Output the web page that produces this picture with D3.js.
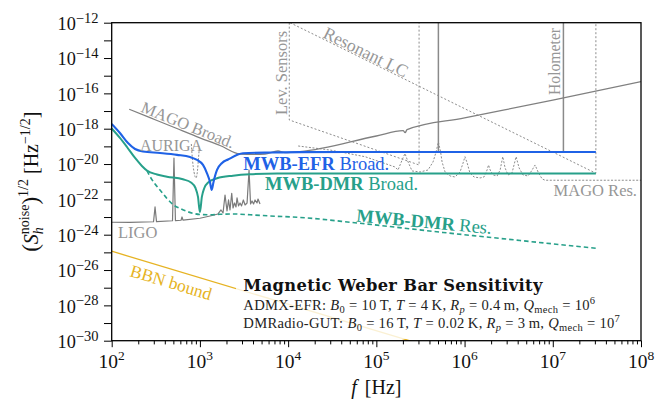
<!DOCTYPE html>
<html>
<head>
<meta charset="utf-8">
<script src="https://cdn.jsdelivr.net/npm/d3@7/dist/d3.min.js"></script>
<style>
  body { margin: 0; background: #fff; }
  svg { display: block; font-family: "Liberation Serif", "DejaVu Serif", serif; }
  text { white-space: pre; }
</style>
</head>
<body>
<svg id="chart" width="667" height="402"></svg>
<script>
// ---- Data: [frequency in Hz, strain noise in Hz^-1/2] ----
const efrBroad = [[100,1.85e-18],[124,5.7e-19],[153,1.55e-19],[184,7.1e-20],[226,5.1e-20],[353,4.2e-20],
  [550,3.3e-20],[773,2.5e-20],[927,1.7e-20],[1084,8.9e-21],[1200,3.1e-21],[1300,9.7e-22],[1360,3.4e-22],
  [1426,9.7e-22],[1563,4.6e-21],[1782,1.15e-20],[2084,1.8e-20],[3083,4.06e-20],[6237,4.5e-20],
  [13650,4.7e-20],[50000,4.8e-20],[3.08e7,4.8e-20]];

const dmrBroad = [[100,1.03e-18],[124,3.0e-19],[149,9.2e-20],[184,2.2e-20],[220,7.8e-21],[251,4.3e-21],
  [326,2.56e-21],[423,1.93e-21],[641,1.37e-21],[793,9.0e-22],[891,4.4e-22],[951,1.37e-22],[1000,1.9e-23],
  [1052,1.37e-22],[1122,4.4e-22],[1240,9.0e-22],[1563,1.56e-21],[2371,2.19e-21],[3700,2.63e-21],
  [7480,2.88e-21],[23000,2.92e-21],[3.08e7,2.92e-21]];

const dmrRes = [[251,4.3e-21],[272,1.98e-21],[310,7.4e-22],[353,3.4e-22],[423,1.12e-22],[495,5.1e-23],
  [595,3.05e-23],[714,2.07e-23],[1000,1.40e-23],[1303,1.34e-23],[1692,1.43e-23],[2371,1.49e-23],
  [3700,1.34e-23],[6240,1.15e-23],[13650,9.5e-24],[60400,4.6e-24],[5.7e5,1.34e-24],[4.26e6,4.7e-25],
  [3.08e7,1.71e-25]];

const ligo = [[100,5.06e-24],[161,4.93e-24],[298,5.4e-24],[310,3.72e-23],[322,5.47e-24],[489,6.15e-24],
  [508,2.2e-20],[528,6.23e-24],[611,6.56e-24],[627,1.01e-23],[643,6.65e-24],[1000,8.51e-24],[1303,1.15e-23],
  [1603,1.49e-23],[1734,2.51e-23],[1828,1.7e-23],[1926,1.77e-22],[2029,2.2e-23],[2110,9.25e-23],
  [2193,2.51e-23],[2294,2.21e-22],[2373,3.26e-23],[2467,6.25e-23],[2565,3.72e-23],[2634,1.2e-22],
  [2739,4.24e-23],[2850,6.25e-23],[2964,4.24e-23],[3107,9.25e-23],[3250,4.82e-23],[3423,6.25e-23],
  [3605,4.61e-21],[3749,5.49e-23],[3899,8.11e-23],[4055,5.49e-23],[4217,9.25e-23],[4441,6.25e-23],
  [4558,1.05e-22],[4801,5.49e-23]];

const magoBroad = [[158,1.26e-17],[272,4.21e-18],[522,1.13e-18],[1000,3.06e-19],[1692,1.12e-19],
  [2850,3.7e-20],[4217,3.48e-20],[5470,3.7e-20],[7680,5.48e-20],[9230,4.46e-20],[13650,5.01e-20],
  [1e5,3.86e-19],[2.01e5,7.83e-19],[2.12e5,6.0e-19],[2.23e5,8.81e-19],[1e6,4.09e-18],[1e7,4.09e-17],
  [1e8,4.58e-16]];

const magoRes = [[1.3e4,1.05e-19],[2.99e4,6.2e-20],[7.45e4,2.6e-20],[1.63e5,6.8e-21],[1.76e5,4.6e-21],[1.96e5,1.7e-20],
  [2.11e5,3.96e-20],[2.29e5,1.31e-20],[2.54e5,4.05e-21],[3.13e5,3.56e-21],[3.85e5,4.6e-21],[4.39e5,1.31e-20],
  [4.75e5,4.8e-20],[5.05e5,1.77e-19],[5.35e5,4.8e-20],[5.56e5,1.31e-20],[6.01e5,3.56e-21],[6.85e5,2.11e-21],
  [7.8e5,1.85e-21],[8.89e5,3.56e-21],[9.62e5,1.15e-20],[1.01e6,2.61e-20],[1.07e6,1.15e-20],[1.15e6,3.12e-21],
  [1.28e6,1.85e-21],[1.5e6,1.63e-21],[1.66e6,1.85e-21],[1.8e6,4.6e-21],[1.87e6,8.85e-21],[1.95e6,4.6e-21],
  [2.1e6,2.4e-21],[2.34e6,2.11e-21],[2.53e6,4.6e-21],[2.71e6,2.61e-20],[2.88e6,6.0e-21],[3.11e6,2.4e-21],
  [3.45e6,3.12e-21],[3.84e6,2.61e-20],[4.15e6,6.0e-21],[4.6e6,2.4e-21],[5.25e6,2.11e-21],[5.83e6,4.6e-21],
  [6.3e6,8.85e-21],[6.81e6,3.56e-21],[7.57e6,1.43e-21],[8.18e6,1.21e-21],[1e8,1.21e-21]];

const auriga = [[799,1.36e-19],[824,1.7e-20],[857,3.56e-21],[903,1.63e-21],[940,4.61e-21],[964,2.2e-20],[989,1.05e-19]];
const levSensors = [[1.03e4,1e-12],[1.03e4,3.12e-18],[3.05e5,8.85e-21],[3.05e5,1e-12]];
const resonantLC = [[1.05e4,1e-12],[3.08e7,3.0e-21],[3.08e7,1e-12]];
const holometer = [[5.05e5,1e-12],[5.05e5,4.8e-20],[1.32e7,4.8e-20],[1.32e7,1e-12]];
const bbnBound = [[100,1.16e-25],[1e6,1.16e-31]];

// Axis decades (exponents of ten)
const xTickExps = [2,3,4,5,6,7,8];
const yTickExps = [-30,-29,-28,-27,-26,-25,-24,-23,-22,-21,-20,-19,-18,-17,-16,-15,-14,-13,-12];
const yLabelExps = [-30,-28,-26,-24,-22,-20,-18,-16,-14,-12];

// Benchmark parameter lines: [text, kind]
const admxRuns = [["ADMX-EFR: ","n"],["B","i"],["0","sub"],[" = 10\u2009T, ","n"],["T","i"],[" = 4\u2009K, ","n"],
  ["R","i"],["p","subi"],[" = 0.4\u2009m, ","n"],["Q","i"],["mech","sub"],[" = 10","n"],["6","sup"]];
const dmradioRuns = [["DMRadio-GUT: ","n"],["B","i"],["0","sub"],[" = 16\u2009T, ","n"],["T","i"],[" = 0.02\u2009K, ","n"],
  ["R","i"],["p","subi"],[" = 3\u2009m, ","n"],["Q","i"],["mech","sub"],[" = 10","n"],["7","sup"]];

// ---- Layout ----
const X0 = 111.7, X1 = 641, Y0 = 340.7, Y1 = 22.7;
const BLUE = "#1f62e6", GREEN = "#27a08a", GRAY = "#808080", LGRAY = "#969696", GOLD = "#e6b323";

const svg = d3.select("#chart");
const x = d3.scaleLog().domain([1e2, 1e8]).range([X0, X1]);
const y = d3.scaleLog().domain([1e-30, 1e-12]).range([Y0, Y1]);

svg.append("defs").append("clipPath").attr("id", "plotArea")
  .append("rect").attr("x", X0).attr("y", Y1).attr("width", X1 - X0).attr("height", Y0 - Y1);

const straight = d3.line().x(d => x(d[0])).y(d => y(d[1]));
const smooth = d3.line().x(d => x(d[0])).y(d => y(d[1])).curve(d3.curveMonotoneX);

const plot = svg.append("g").attr("clip-path", "url(#plotArea)");

function draw(data, gen, color, width, dash) {
  const p = plot.append("path").datum(data).attr("d", gen)
    .attr("fill", "none").attr("stroke", color).attr("stroke-width", width)
    .attr("stroke-linejoin", "round");
  if (dash) p.attr("stroke-dasharray", dash);
  return p;
}

// Reference experiments
draw(bbnBound, straight, GOLD, 1.3);
draw(levSensors, straight, "#8c8c8c", 1, "2,2");
draw(resonantLC, straight, "#8c8c8c", 1, "2,2");
draw(magoRes, straight, "#8c8c8c", 1, "2,1.6");
draw(holometer, straight, "#8a8a8a", 1.5);
draw(magoBroad, smooth, GRAY, 1.3);
draw(auriga, smooth, "#8c8c8c", 1, "2,1.5");
draw(ligo, straight, "#7a7a7a", 1.2);

// Magnetic Weber bar projections
draw(dmrRes, smooth, GREEN, 1.6, "4.5,3");
draw(dmrBroad, smooth, GREEN, 2);
draw(efrBroad, smooth, BLUE, 2.1);

// ---- Axes ----
const xMinor = [];
xTickExps.forEach(e => { for (let m = 1; m <= 9; m++) { const v = m * Math.pow(10, e); if (v <= 1e8) xMinor.push(v); } });
const xAxis = svg.append("g").attr("transform", `translate(0,${Y0})`)
  .call(d3.axisBottom(x).tickValues(xMinor).tickFormat("").tickSizeOuter(0).tickSize(6.5));
xAxis.selectAll(".tick line").attr("y2", d => (Math.abs(Math.log10(d) - Math.round(Math.log10(d))) < 1e-9 ? 6.5 : 3.7))
  .attr("stroke", "#000").attr("stroke-width", 1);
xAxis.select(".domain").remove();

const yAxis = svg.append("g").attr("transform", `translate(${X0},0)`)
  .call(d3.axisLeft(y).tickValues(yTickExps.map(e => Math.pow(10, e))).tickFormat("").tickSizeOuter(0).tickSize(7.7));
yAxis.selectAll(".tick line").attr("stroke", "#000").attr("stroke-width", 1);
yAxis.select(".domain").remove();

svg.append("rect").attr("x", X0).attr("y", Y1).attr("width", X1 - X0).attr("height", Y0 - Y1)
  .attr("fill", "none").attr("stroke", "#000").attr("stroke-width", 1.3);

function pow10(sel, e, supSize, supDy) {
  sel.append("tspan").text("10");
  sel.append("tspan").attr("font-size", supSize).attr("dy", supDy).text(e < 0 ? "\u2212" + (-e) : String(e));
}

xTickExps.forEach(e => {
  const t = svg.append("text").attr("x", x(Math.pow(10, e))).attr("y", Y0 + 27.5)
    .attr("text-anchor", "middle").attr("font-size", 19.5).attr("fill", "#111");
  pow10(t, e, 13.5, -8.5);
});
yLabelExps.forEach(e => {
  const t = svg.append("text").attr("x", 98.5).attr("y", y(Math.pow(10, e)) + 7.3)
    .attr("text-anchor", "end").attr("font-size", 18.3).attr("fill", "#111");
  pow10(t, e, 14.5, -7.5);
});

// Axis titles
const xt = svg.append("text").attr("x", (X0 + X1) / 2).attr("y", 394).attr("text-anchor", "middle")
  .attr("font-size", 20).attr("fill", "#111");
xt.append("tspan").attr("font-style", "italic").text("f");
xt.append("tspan").attr("dx", 8).text("[Hz]");

const yt = svg.append("text").attr("transform", `translate(38,${(Y0 + Y1) / 2}) rotate(-90)`)
  .attr("text-anchor", "middle").attr("font-size", 20).attr("fill", "#111");
yt.append("tspan").attr("font-size", 23).text("(");
yt.append("tspan").attr("font-style", "italic").text("S");
yt.append("tspan").attr("font-style", "italic").attr("font-size", 14).attr("dy", 4.5).text("h");
yt.append("tspan").attr("font-size", 14).attr("dx", -7).attr("dy", -14).text("noise");
yt.append("tspan").attr("font-size", 23).attr("dy", 9.5).text(")");
yt.append("tspan").attr("font-size", 14).attr("dy", -10).text("1/2");
yt.append("tspan").attr("dy", 10).text(" [Hz");
yt.append("tspan").attr("font-size", 14).attr("dy", -8).text("\u22121/2");
yt.append("tspan").attr("dy", 8).text("]");

// ---- Curve labels ----
function label(txt, px, py, size, color, rot, anchor) {
  return svg.append("text").attr("transform", `translate(${px},${py}) rotate(${rot || 0})`)
    .attr("font-size", size).attr("fill", color).attr("text-anchor", anchor || "start").text(txt);
}
label("MAGO Broad.", 140, 111.5, 16.5, LGRAY, 22);
label("AURIGA", 140, 151, 16, LGRAY);
label("LIGO", 118, 238.3, 16.5, LGRAY);
label("BBN bound", 129, 276, 17.5, GOLD, 16.7);
label("Lev. Sensors", 286.5, 115, 16.5, LGRAY, -90);
label("Resonant LC", 322, 37, 17.5, LGRAY, 26.3);
label("Holometer", 560, 95, 15.7, LGRAY, -90);
label("MAGO Res.", 637, 196, 16.5, LGRAY, 0, "end");

function boldLabel(bold, rest, px, py, color, rot) {
  const t = svg.append("text").attr("transform", `translate(${px},${py}) rotate(${rot || 0})`)
    .attr("font-size", 18.5).attr("fill", color);
  t.append("tspan").attr("font-weight", "bold").text(bold);
  t.append("tspan").text(rest);
  return t;
}
boldLabel("MWB-EFR", " Broad.", 243.3, 169.5, BLUE);
boldLabel("MWB-DMR", " Broad.", 265, 189.5, GREEN);
boldLabel("MWB-DMR", " Res.", 356, 221.5, GREEN, 5.3);

// ---- Benchmark box ----
svg.append("rect").attr("x", 236).attr("y", 270).attr("width", 394).attr("height", 69)
  .attr("fill", "#fff").attr("fill-opacity", 0.8);
svg.append("text").attr("x", 243.3).attr("y", 291).attr("font-family", "'DejaVu Serif', serif")
  .attr("font-weight", "bold").attr("font-size", 16.3).attr("letter-spacing", 0.35)
  .attr("fill", "#111").text("Magnetic Weber Bar Sensitivity");

function richLine(runs, px, py) {
  const t = svg.append("text").attr("x", px).attr("y", py).attr("font-size", 14.6)
    .attr("letter-spacing", 0.3).attr("fill", "#222");
  let cur = 0;
  runs.forEach(([s, k]) => {
    const target = k.startsWith("sub") ? 3.5 : (k === "sup" ? -6 : 0);
    const ts = t.append("tspan").attr("dy", target - cur).text(s);
    cur = target;
    if (k === "i" || k === "subi") ts.attr("font-style", "italic");
    if (k.startsWith("sub") || k === "sup") ts.attr("font-size", 10.5);
  });
}
richLine(admxRuns, 243.3, 309.5);
richLine(dmradioRuns, 243.3, 327.5);
</script>
</body>
</html>
